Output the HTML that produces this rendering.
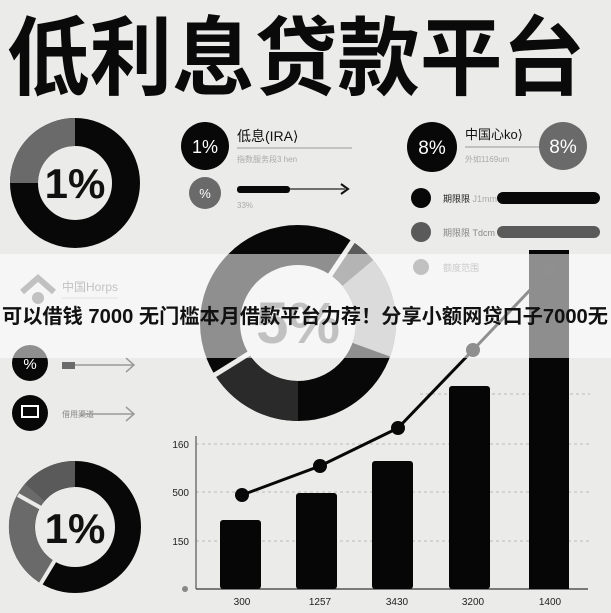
<!DOCTYPE html>
<html><head><meta charset="utf-8"><style>
html,body{margin:0;padding:0;width:611px;height:613px;overflow:hidden;background:#ebebea;}
svg{display:block;font-family:"Liberation Sans","Noto Sans CJK SC",sans-serif;}
</style></head><body>
<svg width="611" height="613" viewBox="0 0 611 613">
<rect width="611" height="613" fill="#ebebea"/>
<text x="296" y="88" font-size="86" font-weight="bold" text-anchor="middle" textLength="578" lengthAdjust="spacingAndGlyphs" font-family="'Noto Sans CJK SC',sans-serif" fill="#0a0a0a">低利息贷款平台</text>

<!-- top-left donut -->
<circle cx="75" cy="183" r="51" fill="none" stroke="#080808" stroke-width="28"/>
<path d="M75 132 A51 51 0 0 0 24 183" fill="none" stroke="#6a6a6a" stroke-width="28"/>
<text x="75" y="198" font-size="42" font-weight="bold" text-anchor="middle" fill="#111">1%</text>

<!-- middle top -->
<circle cx="205" cy="146" r="24" fill="#080808"/>
<text x="205" y="153" font-size="18" text-anchor="middle" fill="#fff">1%</text>
<text x="237" y="141" font-size="14" fill="#111">低息(IRA⟩</text>
<line x1="237" y1="148" x2="352" y2="148" stroke="#999" stroke-width="1"/>
<text x="237" y="162" font-size="8" fill="#aaa">指数服务段3 hen</text>
<circle cx="205" cy="193" r="16" fill="#6a6a6a"/>
<text x="205" y="198" font-size="13" text-anchor="middle" fill="#fff">%</text>
<line x1="240" y1="189" x2="345" y2="189" stroke="#444" stroke-width="1.5"/>
<rect x="237" y="186" width="53" height="7" rx="3" fill="#080808"/>
<path d="M341 184 L348 189 L341 194" fill="none" stroke="#111" stroke-width="2"/>
<text x="237" y="208" font-size="8" fill="#aaa">33%</text>

<!-- right top -->
<circle cx="432" cy="147" r="25" fill="#080808"/>
<text x="432" y="154" font-size="19" text-anchor="middle" fill="#fff">8%</text>
<text x="465" y="139" font-size="13" fill="#111">中国心ko⟩</text>
<line x1="465" y1="147" x2="557" y2="147" stroke="#999"/>
<text x="465" y="162" font-size="8" fill="#aaa">外如1169um</text>
<circle cx="563" cy="146" r="24" fill="#6a6a6a"/>
<text x="563" y="153" font-size="19" text-anchor="middle" fill="#fff">8%</text>
<circle cx="421" cy="198" r="10" fill="#080808"/>
<text x="443" y="202" font-size="9" fill="#222">期限限 <tspan fill="#aaa">J1mm</tspan></text>
<rect x="497" y="192" width="103" height="12" rx="6" fill="#080808"/>
<circle cx="421" cy="232" r="10" fill="#5a5a5a"/>
<text x="443" y="236" font-size="9" fill="#888">期限限 Tdcm</text>
<rect x="497" y="226" width="103" height="12" rx="6" fill="#5a5a5a"/>
<circle cx="421" cy="267" r="8" fill="#777"/>
<text x="443" y="271" font-size="9" fill="#888">额度范围</text>

<!-- big donut: center 298,323 r78 -->
<circle cx="298" cy="323" r="78" fill="none" stroke="#080808" stroke-width="40"/>
<path d="M341.6 258.3 A78 78 0 0 1 357.8 272.9" fill="none" stroke="#5a5a5a" stroke-width="40"/>
<path d="M357.8 272.9 A78 78 0 0 1 371.3 349.7" fill="none" stroke="#b0b0b0" stroke-width="40"/>
<path d="M298 401 A78 78 0 0 1 231.9 364.3" fill="none" stroke="#2a2a2a" stroke-width="40"/>
<line x1="298" y1="323" x2="357" y2="235" stroke="#ebebea" stroke-width="5"/>
<line x1="298" y1="323" x2="205" y2="381" stroke="#ebebea" stroke-width="5"/>
<text x="298" y="343" font-size="58" font-weight="bold" text-anchor="middle" fill="#777">5%</text>

<!-- chart -->
<g stroke="#bbb" stroke-dasharray="3 3">
<line x1="196" y1="444" x2="590" y2="444"/><line x1="196" y1="492" x2="590" y2="492"/><line x1="196" y1="541" x2="590" y2="541"/><line x1="420" y1="394" x2="590" y2="394"/>
</g>
<line x1="196" y1="436" x2="196" y2="589" stroke="#555" stroke-width="1.2"/>
<line x1="196" y1="589" x2="588" y2="589" stroke="#555" stroke-width="1.5"/>
<circle cx="185" cy="589" r="3" fill="#888"/>
<g font-size="10" fill="#222" text-anchor="end">
<text x="189" y="448">160</text><text x="189" y="496">500</text><text x="189" y="545">150</text></g>
<g fill="#060606">
<rect x="220" y="520" width="41" height="69" rx="3"/>
<rect x="296" y="493" width="41" height="96" rx="3"/>
<rect x="372" y="461" width="41" height="128" rx="3"/>
<rect x="449" y="386" width="41" height="203" rx="3"/>
<rect x="529" y="250" width="40" height="339"/>
</g>
<polyline points="242,495 320,466 398,428 473,350 550,269" fill="none" stroke="#080808" stroke-width="3"/>
<g fill="#080808"><circle cx="242" cy="495" r="7"/><circle cx="320" cy="466" r="7"/><circle cx="398" cy="428" r="7"/><circle cx="473" cy="350" r="7"/><circle cx="550" cy="269" r="7"/></g>
<g font-size="10" fill="#222" text-anchor="middle">
<text x="242" y="605">300</text><text x="320" y="605">1257</text><text x="397" y="605">3430</text><text x="473" y="605">3200</text><text x="550" y="605">1400</text></g>

<!-- left middle -->
<path d="M22 292 L38 278 L54 292" fill="none" stroke="#777" stroke-width="6"/>
<circle cx="38" cy="298" r="6" fill="#777"/>
<text x="62" y="291" font-size="12" fill="#777">中国Horps</text>
<line x1="62" y1="298" x2="118" y2="298" stroke="#bbb"/>
<circle cx="30" cy="363" r="18" fill="#080808"/>
<text x="30" y="369" font-size="15" text-anchor="middle" fill="#fff">%</text>
<line x1="62" y1="365" x2="133" y2="365" stroke="#999" stroke-width="1.5"/>
<rect x="62" y="362" width="13" height="7" fill="#6a6a6a"/>
<path d="M126 358 L134 365 L126 372" fill="none" stroke="#999" stroke-width="1.5"/>
<circle cx="30" cy="413" r="18" fill="#080808"/>
<rect x="22" y="406" width="16" height="11" fill="none" stroke="#fff" stroke-width="2"/>
<text x="62" y="417" font-size="8" fill="#888">借用渠道</text>
<line x1="80" y1="414" x2="133" y2="414" stroke="#999" stroke-width="1.5"/>
<path d="M126 407 L134 414 L126 421" fill="none" stroke="#999" stroke-width="1.5"/>

<!-- bottom-left donut -->
<circle cx="75" cy="527" r="53" fill="none" stroke="#080808" stroke-width="26"/>
<path d="M47 572 A53 53 0 0 1 35 492" fill="none" stroke="#6a6a6a" stroke-width="26"/>
<path d="M35 492 A53 53 0 0 1 75 474" fill="none" stroke="#5a5a5a" stroke-width="26"/>
<line x1="75" y1="527" x2="40" y2="585" stroke="#ebebea" stroke-width="4"/>
<line x1="75" y1="527" x2="18" y2="495" stroke="#ebebea" stroke-width="4"/>
<text x="75" y="543" font-size="42" font-weight="bold" text-anchor="middle" fill="#111">1%</text>

<!-- banner -->
<rect x="0" y="254" width="611" height="104" fill="#ffffff" fill-opacity="0.55"/>
<text x="305" y="323" font-size="20" font-weight="bold" text-anchor="middle" textLength="606" lengthAdjust="spacingAndGlyphs" fill="#111">可以借钱 7000 无门槛本月借款平台力荐！分享小额网贷口子7000无</text>
</svg>
</body></html>
